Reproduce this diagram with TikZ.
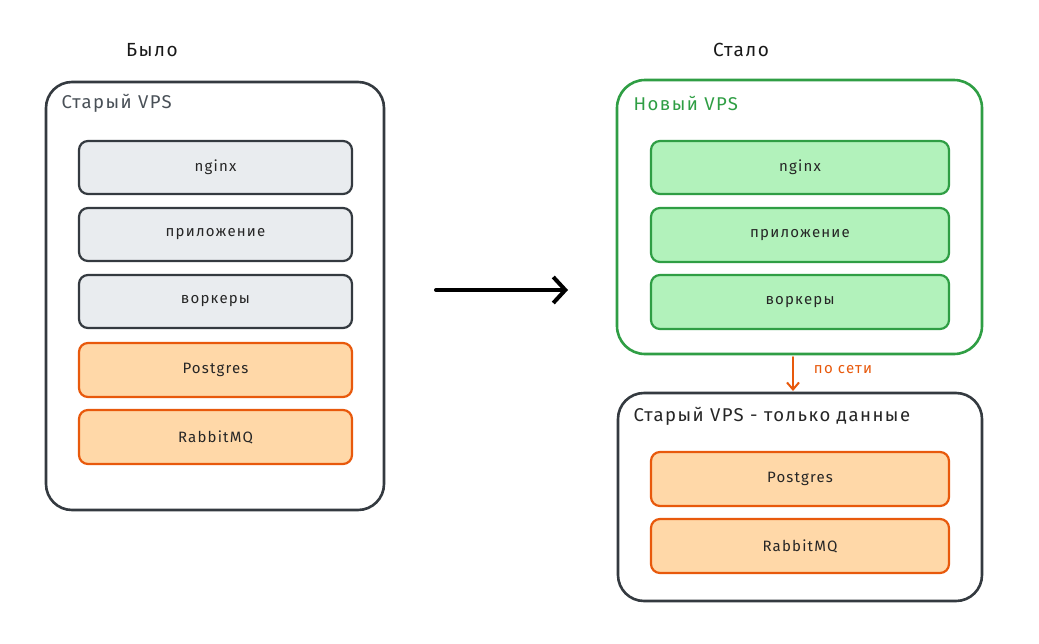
\documentclass[tikz,border=0pt]{standalone}
\usepackage{fontspec}
\setmainfont{Fira Sans}[LetterSpace=8]
\usetikzlibrary{arrows.meta}
\definecolor{dark}{HTML}{343A40}
\definecolor{greyfill}{HTML}{E9ECEF}
\definecolor{orstroke}{HTML}{E8590C}
\definecolor{orfill}{HTML}{FFD8A8}
\definecolor{grstroke}{HTML}{2F9E44}
\definecolor{grfill}{HTML}{B2F2BB}
\definecolor{txtgrey}{HTML}{495057}
\begin{document}
\begin{tikzpicture}[x=1pt,y=-1pt,
  outerbox/.style={draw=dark,line width=2.6pt,rounded corners=26pt},
  greenouter/.style={draw=grstroke,line width=2.6pt,rounded corners=28pt},
  item/.style={rounded corners=9pt,line width=2.2pt},
  greyitem/.style={item,draw=dark,fill=greyfill},
  oritem/.style={item,draw=orstroke,fill=orfill},
  gritem/.style={item,draw=grstroke,fill=grfill},
  lbl/.style={font=\fontsize{15}{17}\selectfont,text=black!85},
  title/.style={font=\fontsize{19}{22}\selectfont,text=black!90},
  boxtitle/.style={font=\fontsize{18.5}{21}\selectfont,anchor=west}
]
\useasboundingbox (0,0) rectangle (1039,643);
\fill[white] (0,0) rectangle (1039,643);

% titles
\node[title] (bylo) at (152,50) {Было};
\node[title] (stalo) at (741,50) {Стало};

% left box
\draw[outerbox] (46,82) rectangle (384,510);
\node[boxtitle,text=txtgrey] (oldt) at (58,103) {Старый VPS};
\draw[greyitem] (79,141) rectangle node[lbl] (l1) {nginx} (352,194);
\draw[greyitem] (79,208) rectangle node[lbl] (l2) {приложение} (352,261);
\draw[greyitem] (79,275) rectangle node[lbl] (l3) {воркеры} (352,328);
\draw[oritem] (79,343) rectangle node[lbl] (l4) {Postgres} (352,397);
\draw[oritem] (79,410) rectangle node[lbl] (l5) {RabbitMQ} (352,464);

% main arrow
\coordinate (a1) at (436,290);
\coordinate (a2) at (568,290);
\draw[line width=4pt,line cap=round,-{Straight Barb[length=12pt,width=26pt,line width=4pt]}] (a1) -- (a2);

% right green box
\draw[greenouter] (617,80) rectangle (982,354);
\node[boxtitle,text=grstroke] (newt) at (630,103) {Новый VPS};
\draw[gritem] (651,141) rectangle node[lbl] (r1) {nginx} (949,194);
\draw[gritem] (651,208) rectangle node[lbl] (r2) {приложение} (949,262);
\draw[gritem] (651,275) rectangle node[lbl] (r3) {воркеры} (949,329);

% bottom box
\draw[outerbox] (618,393) rectangle (982,601);
\node[boxtitle,text=black!85] (datat) at (630,416) {Старый VPS - только данные};
\draw[oritem] (651,452) rectangle node[lbl] (r4) {Postgres} (949,506);
\draw[oritem] (651,519) rectangle node[lbl] (r5) {RabbitMQ} (949,573);

% net arrow
\coordinate (n1) at (793,357);
\coordinate (n2) at (793,391);
\draw[draw=orstroke,line width=2pt,line cap=round,-{Straight Barb[length=7pt,width=12pt,line width=2pt]}] (n1) -- (n2);
\node[font=\fontsize{15}{17}\selectfont,text=orstroke] (net) at (843,370) {по сети};
\end{tikzpicture}
\end{document}
